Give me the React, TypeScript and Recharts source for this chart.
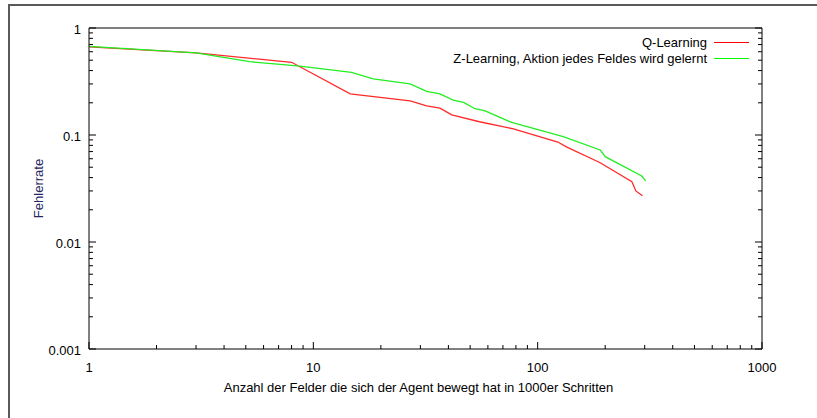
import { LineChart, Line, XAxis, YAxis, Legend } from "recharts"

// Q-Learning vs Z-Learning error rate, log-log
const Q_LEARNING = [
    { x: 1, y: 0.665 },
    { x: 3, y: 0.585 },
    { x: 8, y: 0.478 },
    { x: 14.6, y: 0.242 },
    { x: 27, y: 0.208 },
    { x: 32, y: 0.187 },
    { x: 36.7, y: 0.178 },
    { x: 41.4, y: 0.154 },
    { x: 55, y: 0.133 },
    { x: 78, y: 0.114 },
    { x: 123, y: 0.086 },
    { x: 135, y: 0.077 },
    { x: 190, y: 0.055 },
    { x: 263, y: 0.0366 },
    { x: 274, y: 0.03 },
    { x: 293, y: 0.027 },
]

const Z_LEARNING = [
    { x: 1, y: 0.672 },
    { x: 3, y: 0.585 },
    { x: 5.2, y: 0.484 },
    { x: 7.1, y: 0.458 },
    { x: 8.7, y: 0.44 },
    { x: 14.8, y: 0.385 },
    { x: 18.5, y: 0.334 },
    { x: 27, y: 0.3 },
    { x: 32, y: 0.256 },
    { x: 36.7, y: 0.242 },
    { x: 42, y: 0.212 },
    { x: 46.7, y: 0.202 },
    { x: 52.6, y: 0.176 },
    { x: 58.3, y: 0.168 },
    { x: 76.6, y: 0.131 },
    { x: 130, y: 0.0964 },
    { x: 190, y: 0.0724 },
    { x: 200, y: 0.0627 },
    { x: 291, y: 0.0414 },
    { x: 303, y: 0.0372 },
]

const X_MAJOR = [1, 10, 100, 1000]
const X_TICKS = [1, 2, 3, 4, 5, 6, 7, 8, 9, 10, 20, 30, 40, 50, 60, 70, 80, 90, 100, 200, 300, 400, 500, 600, 700, 800, 900, 1000]
// top axis of the original only spans two decades
const X2_MAJOR = [1, 10, 100]
const X2_TICKS = [1, 2, 3, 4, 5, 6, 7, 8, 9, 10, 20, 30, 40, 50, 60, 70, 80, 90, 100]
const Y_MAJOR = [0.001, 0.01, 0.1, 1]
const Y_TICKS = [0.001, 0.002, 0.003, 0.004, 0.005, 0.006, 0.007, 0.008, 0.009, 0.01, 0.02, 0.03, 0.04, 0.05, 0.06, 0.07, 0.08, 0.09, 0.1, 0.2, 0.3, 0.4, 0.5, 0.6, 0.7, 0.8, 0.9, 1]

const FONT = "'Liberation Sans', Arial, sans-serif"
const MAJOR_LEN = 7
const MINOR_LEN = 4

const BottomTick = (props: any) => {
    const { x, y, payload } = props
    const major = X_MAJOR.includes(payload.value)
    return (
        <g>
            <line x1={x} x2={x} y1={y} y2={y - (major ? MAJOR_LEN : MINOR_LEN)} stroke="#000" />
            {major && (
                <text x={x} y={y + 18} textAnchor="middle" dominantBaseline="central" fontSize={13} fontFamily={FONT} fill="#000">
                    {payload.value}
                </text>
            )}
        </g>
    )
}

const TopTick = (props: any) => {
    const { x, y, payload } = props
    const major = X2_MAJOR.includes(payload.value)
    return <line x1={x} x2={x} y1={y} y2={y + (major ? MAJOR_LEN : MINOR_LEN)} stroke="#000" />
}

const LeftTick = (props: any) => {
    const { x, y, payload } = props
    const major = Y_MAJOR.includes(payload.value)
    return (
        <g>
            <line x1={x} x2={x + (major ? MAJOR_LEN : MINOR_LEN)} y1={y} y2={y} stroke="#000" />
            {major && (
                <text x={x - 8} y={y + 1.5} textAnchor="end" dominantBaseline="central" fontSize={13} fontFamily={FONT} fill="#000">
                    {String(payload.value)}
                </text>
            )}
        </g>
    )
}

const RightTick = (props: any) => {
    const { x, y, payload } = props
    const major = Y_MAJOR.includes(payload.value)
    return <line x1={x} x2={x - (major ? MAJOR_LEN : MINOR_LEN)} y1={y} y2={y} stroke="#000" />
}

const LegendBox = () => {
    const rows = [
        { name: "Q-Learning", color: "#ff0000" },
        { name: "Z-Learning, Aktion jedes Feldes wird gelernt", color: "#00ff00" },
    ]
    return (
        <div style={{ fontFamily: FONT, fontSize: 13, color: "#000" }}>
            {rows.map((r) => (
                <div key={r.name} style={{ display: "flex", justifyContent: "flex-end", alignItems: "center", height: 16 }}>
                    <span style={{ whiteSpace: "nowrap" }}>{r.name}</span>
                    <span style={{ display: "inline-block", width: 35, height: 1, background: r.color, marginLeft: 7 }} />
                </div>
            ))}
        </div>
    )
}

export default function App() {
    return (
        <div style={{ position: "absolute", left: 0, top: 0, width: 817, height: 418, overflow: "hidden", background: "#fff" }}>
            <div style={{ position: "absolute", left: 8, top: 4, width: 900, height: 500, borderLeft: "2px solid #5a5a5a", borderTop: "2px solid #5a5a5a" }} />
            <div style={{ position: "absolute", left: 0, top: 0 }}>
                <LineChart width={817} height={418} margin={{ top: 0, right: 0, bottom: 0, left: 0 }}>
                    <XAxis
                        dataKey="x"
                        type="number"
                        scale="log"
                        domain={[1, 1000]}
                        allowDataOverflow
                        ticks={X_TICKS}
                        interval={0}
                        tickSize={0}
                        tickMargin={0}
                        tickLine={false}
                        tick={<BottomTick />}
                        axisLine={{ stroke: "#000" }}
                        height={69}
                        label={{
                            content: (p: any) => (
                                <text
                                    x={p.viewBox.x + p.viewBox.width / 2 - 7}
                                    y={p.viewBox.y + 38}
                                    textAnchor="middle"
                                    dominantBaseline="central"
                                    fontSize={13}
                                    fontFamily={FONT}
                                    fill="#000"
                                >
                                    Anzahl der Felder die sich der Agent bewegt hat in 1000er Schritten
                                </text>
                            ),
                        }}
                    />
                    <XAxis
                        xAxisId="top"
                        orientation="top"
                        type="number"
                        scale="log"
                        domain={[1, 100]}
                        allowDataOverflow
                        ticks={X2_TICKS}
                        interval={0}
                        tickSize={0}
                        tickMargin={0}
                        tickLine={false}
                        tick={<TopTick />}
                        axisLine={{ stroke: "#000" }}
                        height={28}
                    />
                    <YAxis
                        dataKey="y"
                        type="number"
                        scale="log"
                        domain={[0.001, 1]}
                        allowDataOverflow
                        ticks={Y_TICKS}
                        interval={0}
                        tickSize={0}
                        tickMargin={0}
                        tickLine={false}
                        tick={<LeftTick />}
                        axisLine={{ stroke: "#000" }}
                        width={89}
                        label={{
                            content: (p: any) => (
                                <text
                                    x={38}
                                    y={p.viewBox.y + p.viewBox.height / 2}
                                    transform={`rotate(-90, 38, ${p.viewBox.y + p.viewBox.height / 2})`}
                                    textAnchor="middle"
                                    dominantBaseline="central"
                                    fontSize={13}
                                    fontFamily={FONT}
                                    fill="#262660"
                                >
                                    Fehlerrate
                                </text>
                            ),
                        }}
                    />
                    <YAxis
                        yAxisId="right"
                        orientation="right"
                        type="number"
                        scale="log"
                        domain={[0.001, 1]}
                        allowDataOverflow
                        ticks={Y_TICKS}
                        interval={0}
                        tickSize={0}
                        tickMargin={0}
                        tickLine={false}
                        tick={<RightTick />}
                        axisLine={{ stroke: "#000" }}
                        width={55}
                    />
                    <Legend
                        layout="horizontal"
                        align="center"
                        verticalAlign="middle"
                        wrapperStyle={{ left: 379, top: 34, width: 370, height: 32 }}
                        content={() => <LegendBox />}
                    />
                    <Line
                        data={Q_LEARNING}
                        dataKey="y"
                        name="Q-Learning"
                        type="linear"
                        stroke="#ff2a2a"
                        strokeWidth={1.3}
                        dot={false}
                        isAnimationActive={false}
                    />
                    <Line
                        data={Z_LEARNING}
                        dataKey="y"
                        name="Z-Learning, Aktion jedes Feldes wird gelernt"
                        type="linear"
                        stroke="#22ee22"
                        strokeWidth={1.3}
                        dot={false}
                        isAnimationActive={false}
                    />
                </LineChart>
            </div>
        </div>
    )
}
